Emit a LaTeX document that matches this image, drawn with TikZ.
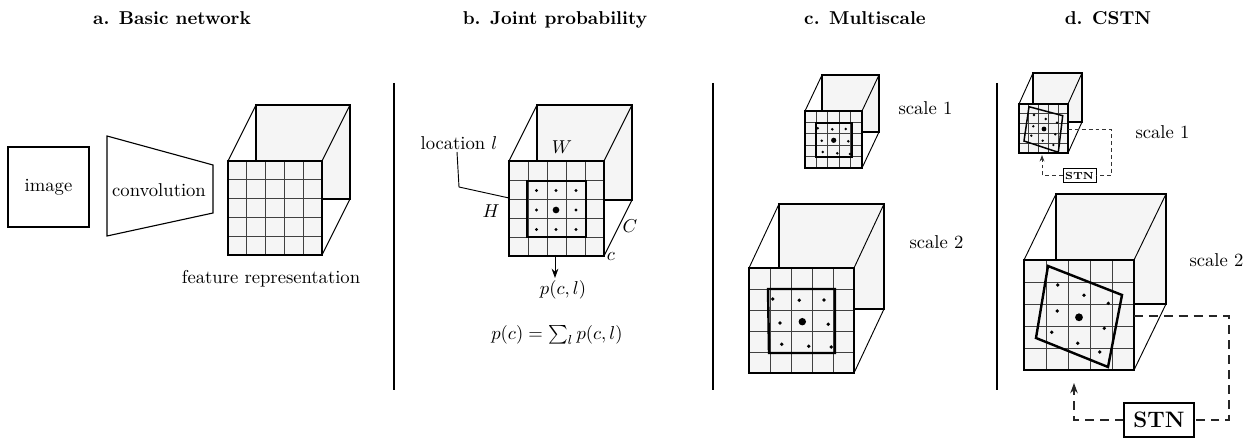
\documentclass[tikz,border=0pt]{standalone}
\usetikzlibrary{arrows.meta}
\definecolor{facegray}{gray}{0.96}
\tikzset{
  edgeline/.style={line width=0.5pt},
  gridline/.style={line width=0.5pt, black!75},
  titletext/.style={font=\bfseries, anchor=base, inner sep=0pt},
  lbl/.style={inner sep=0pt},
  arr/.style={-{Stealth[length=5pt,width=3.6pt]}, line width=0.5pt},
  dashsmall/.style={dash pattern=on 2.1pt off 1.6pt, line width=0.5pt, black!80},
  dashbig/.style={dash pattern=on 4.8pt off 3.2pt, line width=0.6pt, black!85},
  sepline/.style={line width=1pt},
}
\newcommand{\mycube}[6]{%
  \filldraw[fill=facegray, line width=#6] ({#1+(#4)},{#2+(#5)}) rectangle ++(#3,#3);
  \draw[edgeline] (#1,#2) -- ++(#4,#5);
  \draw[edgeline] ({#1+#3},#2) -- ++(#4,#5);
  \draw[edgeline] ({#1+#3},{#2+#3}) -- ++(#4,#5);
  \fill[facegray] (#1,#2) rectangle ++(#3,#3);
  \foreach \k in {1,2,3,4}{
    \draw[gridline] ({#1+\k*#3/5},#2) -- ++(0,#3);
    \draw[gridline] (#1,{#2+\k*#3/5}) -- ++(#3,0);
  }
  \draw[line width=#6] (#1,#2) rectangle ++(#3,#3);
}
\newcommand{\mydot}[2]{\fill (#1) circle[radius=#2];}
\begin{document}
\begin{tikzpicture}[x=0.537pt,y=-0.537pt]
\useasboundingbox (0,0) rectangle (1255,441);

% titles
\node[titletext] (ta) at (172,24.5) {a. Basic network};
\node[titletext] (tb) at (555,24.5) {b. Joint probability};
\node[titletext] (tc) at (865,24.5) {c. Multiscale};
\node[titletext] (td) at (1108,24.5) {d. CSTN};

% separators
\draw[sepline] (394,83) -- (394,390);
\draw[sepline] (713,83) -- (713,390);
\draw[sepline] (997,83) -- (997,390);

% ---------- panel a ----------
\node[draw, line width=0.6pt, minimum width=43.5pt, minimum height=43pt, inner sep=0pt] (img) at (48.5,187) {image};
\draw[line width=0.6pt] (107,136) -- (213,165) -- (213,213) -- (107,236) -- cycle;
\node[lbl] (conv) at (159,190) {convolution};
\mycube{228}{161}{94}{28}{-56}{1.3pt}
\node[lbl] (feat) at (271,279) {feature representation};

% ---------- panel b ----------
\mycube{509}{161}{95}{28}{-56}{1.3pt}
\draw[line width=1.3pt] (527,181) rectangle (586,237);
\foreach \xx in {536.5,556,576}{
  \foreach \yy in {190.5,210,229.5}{
    \fill (\xx,\yy) circle[radius=0.9pt];
  }
}
\fill (556,210) circle[radius=1.8pt];
\node[lbl] (loc) at (459,143) {location $l$};
\coordinate (locend) at (509,198);
\draw[edgeline] (457,152) -- (459,187) -- (locend);
\node[lbl] (W) at (562,147) {$W$};
\node[lbl] (H) at (491,211) {$H$};
\node[lbl] (C) at (630,226) {$C$};
\node[lbl] (c) at (611,256) {$c$};
\coordinate (bface) at (555,255);
\coordinate (bend) at (555,278);
\node[lbl] (pcl) at (563,290) {$p(c,l)$};
\draw[arr] (bface) -- (bend);
\node[lbl] (pc) at (557,335) {$p(c) = \sum_l p(c,l)$};

% ---------- panel c ----------
\mycube{805}{111}{57}{17}{-36}{0.9pt}
\draw[line width=0.9pt] (816,123) rectangle (852,157);
\mydot{817.7,128.3}{0.75pt}\mydot{832.3,129.3}{0.75pt}\mydot{845.7,129}{0.75pt}
\mydot{821.7,140.7}{0.75pt}\mydot{848.3,141.3}{0.75pt}
\mydot{822.7,152}{0.75pt}\mydot{837.3,153.3}{0.75pt}\mydot{850,154}{0.75pt}
\mydot{833.7,140.3}{1.4pt}
\node[lbl] (cs1) at (925.5,108) {scale 1};

\mycube{749}{268}{105}{30}{-64}{1.3pt}
\draw[line width=1.3pt] (768,289) -- (835,289) -- (835,353) -- (769,353) -- cycle;
\mydot{772.7,299}{1pt}\mydot{799.3,300.3}{1pt}\mydot{824,300}{1pt}
\mydot{780,323}{1pt}\mydot{828.3,324.3}{1pt}
\mydot{781.7,344.3}{1pt}\mydot{808.7,346.3}{1pt}\mydot{831.3,347}{1pt}
\mydot{802.3,321.7}{2pt}
\node[lbl] (cs2) at (936.5,242) {scale 2};

% ---------- panel d ----------
\mycube{1019}{104}{49}{14}{-31}{0.8pt}
\draw[line width=0.8pt] (1029,106.7) -- (1062.7,115.7) -- (1058.3,152.3) -- (1024,141) -- cycle;
\mydot{1034,115}{0.7pt}\mydot{1045.7,119}{0.7pt}\mydot{1057,122.7}{0.7pt}
\mydot{1033.3,126.3}{0.7pt}\mydot{1055.3,134.3}{0.7pt}
\mydot{1031.3,135.7}{0.7pt}\mydot{1042.7,140.7}{0.7pt}\mydot{1053.3,145}{0.7pt}
\mydot{1044,129}{1.3pt}
\node[lbl] (ds1) at (1162.5,132) {scale 1};
\node[draw, line width=0.5pt, minimum width=17.7pt, minimum height=8pt, inner sep=0pt,
      font=\fontsize{5.5}{6}\selectfont\bfseries] (stn1) at (1079.5,175.5) {STN};
\coordinate (d1e) at (1068,129);
\coordinate (d1r) at (1111,129);
\coordinate (d1b) at (1042,155);
\draw[dashsmall] (d1e) -- (d1r) |- (stn1.east);
\draw[dashsmall, -{Stealth[length=3.5pt,width=2.6pt]}] (stn1.west) -| (d1b);

\mycube{1024}{260}{110}{32}{-66}{1.3pt}
\draw[line width=1.3pt] (1048,266) -- (1122,295) -- (1108,367) -- (1036,338) -- cycle;
\mydot{1057.7,285}{1pt}\mydot{1084,295.3}{1pt}\mydot{1108.3,303.3}{1pt}
\mydot{1057.3,311}{1pt}\mydot{1104.3,328.3}{1pt}
\mydot{1051.7,332.3}{1pt}\mydot{1077.7,343.3}{1pt}\mydot{1099.7,352}{1pt}
\mydot{1079,317.3}{2.1pt}
\node[lbl] (ds2) at (1216.5,260) {scale 2};
\node[draw, line width=0.6pt, minimum width=37.6pt, minimum height=18.3pt, inner sep=0pt,
      font=\fontsize{12}{14}\selectfont\bfseries] (stn2) at (1159,420) {STN};
\coordinate (d2e) at (1134,316);
\coordinate (d2r) at (1229,316);
\coordinate (d2b) at (1074,383);
\draw[dashbig] (d2e) -- (d2r) |- (stn2.east);
\draw[dashbig, -{Stealth[length=5.5pt,width=4pt]}] (stn2.west) -| (d2b);
\end{tikzpicture}
\end{document}
